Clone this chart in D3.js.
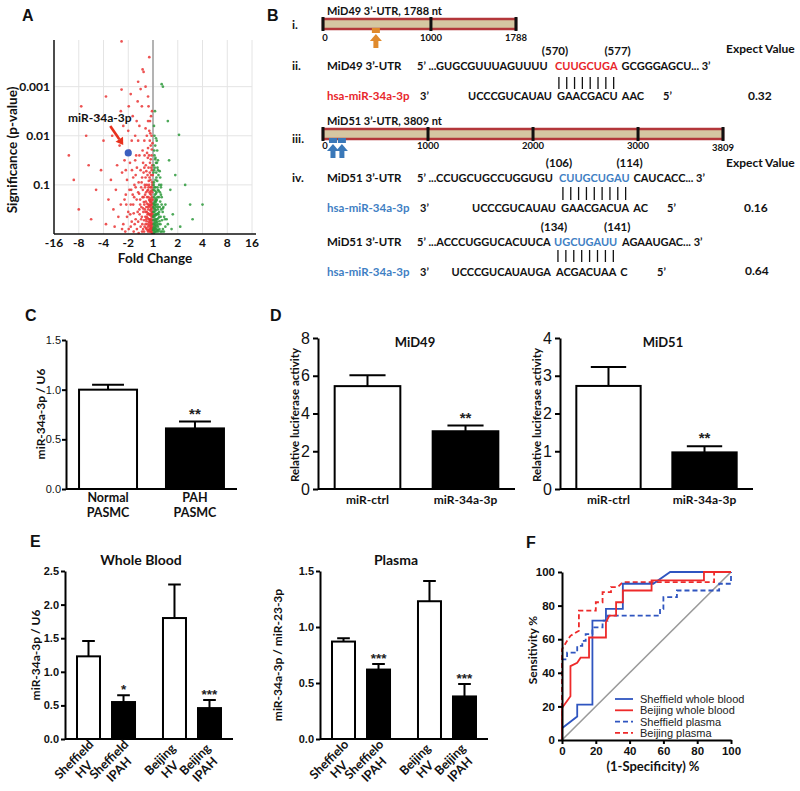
<!DOCTYPE html>
<html><head><meta charset="utf-8">
<script src="https://cdn.jsdelivr.net/npm/d3@7"></script>
<style>body{margin:0;background:#fff}</style>
</head><body><svg id="c" width="800" height="791"></svg>
<script>
// ================= DATA =================
// Panel A – volcano plot: [log2 fold change, -log10 p]
const volcanoXTickVals = [-4,-3,-2,-1,0,1,2,3,4];
const volcanoXTickLabels = ["-16","-8","-4","-2","1","2","4","8","16"];
const volcanoYTickVals = [3,2,1];
const volcanoYTickLabels = ["0.001","0.01","0.1"];
const volcanoDown = [
[-0.05,0.1],[-0.12,0.3],[-0.2,0.05],[-0.08,0.5],[-0.3,0.2],[-0.15,0.7],[-0.02,0.9],[-0.25,0.45],[-0.4,0.1],[-0.1,1.1],
[-0.18,0.95],[-0.35,0.6],[-0.05,1.3],[-0.22,1.2],[-0.45,0.35],[-0.28,0.85],[-0.12,1.45],[-0.5,0.15],[-0.03,0.2],[-0.07,0.65],
[-0.33,1.0],[-0.17,0.25],[-0.42,0.75],[-0.09,0.4],[-0.26,0.1],[-0.55,0.5],[-0.14,0.85],[-0.38,1.25],[-0.06,1.6],[-0.21,1.55],
[-0.48,0.95],[-0.02,0.55],[-0.11,0.15],[-0.31,0.35],[-0.19,0.6],[-0.6,0.25],[-0.04,1.05],[-0.24,0.75],[-0.36,0.05],[-0.13,1.25],
[-0.44,1.15],[-0.08,0.8],[-0.29,1.4],[-0.16,0.4],[-0.52,0.7],[-0.01,0.35],[-0.27,0.55],[-0.09,1.8],[-0.2,1.75],[-0.34,1.6],
[-0.06,2.0],[-0.15,2.1],[-0.4,1.45],[-0.58,1.05],[-0.23,0.2],[-0.11,0.65],[-0.47,0.55],[-0.03,1.4],[-0.18,1.35],[-0.32,0.8],
[-0.07,0.05],[-0.39,0.45],[-0.14,0.1],[-0.25,1.0],[-0.54,0.4],[-0.1,0.95],[-0.43,0.2],[-0.05,0.75],[-0.2,0.9],[-0.3,1.15],
[-0.65,0.1],[-0.12,2.3],[-0.25,2.0],[-0.04,2.5],[-0.18,2.6],[-0.35,1.9],[-0.08,1.2],[-0.16,1.0],[-0.5,1.3],[-0.28,0.3],
[-0.02,0.7],[-0.13,0.55],[-0.37,0.65],[-0.22,0.4],[-0.6,0.85],[-0.09,0.25],[-0.41,0.9],[-0.06,0.45],[-0.2,0.15],[-0.33,0.5],
[-0.04,0.02],[-0.09,0.12],[-0.02,0.28],[-0.14,0.22],[-0.06,0.35],[-0.11,0.48],[-0.03,0.62],[-0.17,0.08],[-0.08,0.18],[-0.21,0.32],
[-0.05,0.15],[-0.13,0.4],[-0.01,0.08],[-0.07,0.58],[-0.19,0.5],[-0.1,0.72],[-0.24,0.62],[-0.15,0.58],[-0.03,0.42],[-0.28,0.12],
[-0.02,0.12],[-0.06,0.22],[-0.1,0.05],[-0.04,0.38],[-0.16,0.3],[-0.08,0.68],[-0.12,0.82],[-0.03,1.0],[-0.14,1.15],[-0.07,1.35],
[-0.22,0.08],[-0.26,0.26],[-0.19,0.42],[-0.29,0.66],[-0.23,0.88],[-0.17,1.08],[-0.09,1.52],[-0.27,1.28],[-0.32,0.95],[-0.36,0.28],
[-0.4,0.52],[-0.44,0.05],[-0.48,0.3],[-0.52,0.6],[-0.56,0.82],[-0.46,1.05],[-0.62,0.45],[-0.66,0.7],[-0.7,0.95],[-0.74,0.2],
[-0.78,0.42],[-0.82,0.8],[-0.86,0.25],[-0.9,0.6],[-0.95,0.9],[-0.98,0.1],[-0.58,0.02],[-0.35,1.35],[-0.42,1.7],[-0.24,1.65],
[-0.13,1.9],[-0.05,1.72],[-0.11,2.05],[-0.2,2.3],[-0.3,2.15],[-0.08,2.4],[-0.16,1.6],[-0.01,1.2],[-0.02,1.85],[-0.04,0.85],
[-0.05,0.52],[-0.07,0.3],[-0.12,0.6],[-0.15,0.18],[-0.18,0.75],[-0.21,0.55],[-0.25,0.35],[-0.3,0.45],[-0.34,0.15],[-0.38,0.75],
[-0.03,0.08],[-0.06,0.95],[-0.1,0.28],[-0.13,0.05],[-0.02,0.45],[-0.08,0.1],[-0.11,0.38],[-0.14,0.68],[-0.06,0.6],[-0.09,0.88],
[-1.05,0.35],[-1.15,0.7],[-1.25,0.1],[-1.1,1.3],[-0.93,1.45],[-0.8,1.15],[-0.65,1.35],[-0.55,1.6],[-0.6,1.9],[-0.72,1.5],
[-0.7,0.3],[-0.8,0.6],[-0.9,0.15],[-0.75,1.0],[-1.0,0.45],[-0.85,1.3],[-1.1,0.8],[-0.68,1.6],[-1.2,0.2],[-0.95,1.7],
[-1.3,0.6],[-0.72,2.0],[-1.05,1.1],[-1.4,0.35],[-0.88,0.9],[-1.15,1.5],[-0.78,0.05],[-1.5,0.9],[-0.66,2.3],[-1.0,2.1],
[-1.25,1.25],[-0.82,2.4],[-1.6,0.5],[-0.92,0.4],[-1.35,1.8],[-0.7,1.2],[-1.12,0.05],[-0.98,2.6],[-1.45,1.4],[-0.76,0.75],
[-1.55,0.15],[-1.2,2.2],[-0.86,1.9],[-1.08,0.6],[-1.3,2.5],[-0.62,2.7],[-0.9,2.85],[-1.7,1.1],[-1.8,0.7],[-1.65,2.0],
[-1.27,3.92],[-0.42,3.35],[-0.38,3.3],[-1.27,2.94],[-0.6,3.1],[-0.3,3.0],[-2.0,1.9],[-2.3,0.9],[-2.6,1.4],[-3.0,0.5],
[-2.2,2.4],[-1.9,2.8],[-0.5,2.95],[-0.2,2.8],[-2.7,2.0],[-3.2,1.1],[-0.15,3.6],[-2.5,0.3],[-1.9,0.2],[-2.1,1.3],
[-0.45,2.6],[-0.55,2.2],[-3.4,1.6],[-2.9,2.6]
];
const volcanoUp = [
[0.05,0.1],[0.12,0.3],[0.2,0.05],[0.08,0.5],[0.3,0.2],[0.15,0.7],[0.03,0.9],[0.25,0.45],[0.4,0.1],[0.1,1.1],
[0.18,0.95],[0.35,0.6],[0.05,1.3],[0.22,1.2],[0.45,0.35],[0.28,0.85],[0.12,1.45],[0.5,0.15],[0.03,0.2],[0.07,0.65],
[0.33,1.0],[0.17,0.25],[0.09,0.4],[0.26,0.1],[0.14,0.85],[0.06,1.6],[0.02,0.55],[0.11,0.15],[0.31,0.35],[0.19,0.6],
[0.04,1.05],[0.24,0.75],[0.36,0.05],[0.13,1.25],[0.08,0.8],[0.16,0.4],[0.01,0.35],[0.27,0.55],[0.09,1.8],[0.2,1.5],
[0.06,2.0],[0.15,1.9],[0.23,0.2],[0.11,0.65],[0.42,0.55],[0.03,1.4],[0.18,1.35],[0.32,0.8],[0.07,0.05],[0.39,0.45],
[0.14,0.1],[0.25,1.0],[0.1,0.95],[0.05,0.75],[0.2,0.9],[0.29,1.15],[0.55,0.3],[0.13,0.55],[0.22,0.4],[0.09,0.25],
[0.06,0.45],[0.2,0.15],[0.33,0.5],[0.04,2.2],[0.1,1.55],[0.17,1.7],
[0.04,0.02],[0.09,0.12],[0.02,0.28],[0.14,0.22],[0.06,0.35],[0.11,0.48],[0.03,0.62],[0.17,0.08],[0.08,0.18],[0.21,0.32],
[0.05,0.15],[0.13,0.4],[0.01,0.08],[0.07,0.58],[0.19,0.5],[0.1,0.72],
[0.02,0.12],[0.06,0.22],[0.1,0.05],[0.04,0.38],[0.16,0.3],[0.08,0.68],[0.12,0.82],[0.03,1.0],[0.14,1.15],[0.07,1.35],
[0.22,0.08],[0.26,0.26],[0.19,0.42],[0.29,0.66],[0.23,0.88],[0.17,1.08],[0.09,1.52],[0.27,1.28],[0.32,0.95],[0.36,0.28],
[0.4,0.52],[0.44,0.05],[0.48,0.3],[0.05,0.52],[0.07,0.3],[0.12,0.6],[0.15,0.18],[0.18,0.75],[0.21,0.55],[0.25,0.35],
[0.03,0.08],[0.06,0.95],[0.1,0.28],[0.13,0.05],[0.02,0.45],[0.08,0.1],[0.11,0.38],[0.14,0.68],[0.06,0.6],[0.09,0.88],
[0.02,1.25],[0.05,1.7],[0.12,1.95],[0.08,2.5],[0.2,1.3],[0.3,0.05],[0.35,0.75],[0.5,0.6],[0.6,0.2],[0.16,1.45],
[0.35,3.05],[0.4,3.0],[1.05,2.02],[1.5,0.6],[1.6,0.3],[0.7,0.9],[0.8,0.4],[0.65,1.5],[1.1,0.15],[0.9,1.2],
[2.0,0.6],[0.6,2.3],[1.3,1.0],[0.75,0.1]
];
const volcanoHighlight = {label:"miR-34a-3p", log2fc:-1.0, negLogP:1.65};

// Panel B – 3'UTR maps and alignments
const mid49Length = 1788, mid51Length = 3809;
const mid49Ticks = [0,1000,1788];
const mid51Ticks = [0,1000,2000,3000,3809];
const mid49SiteMarks = [490];
const mid51SiteMarks = [95,180];
const alignRows = [
 {utr:"MiD49 3’-UTR", pre:"5’ ...GUGCGUUUAGUUUU", site:"CUUGCUGA", post:"GCGGGAGCU... 3’", posA:"(570)", posB:"(577)",
  mirPre:"UCCCGUCAUAU", mirSite:"GAACGACU", mirPost:"AAC", expect:"0.32", color:"#e8262b"},
 {utr:"MiD51 3’-UTR", pre:"5’ ...CCUGCUGCCUGGUGU", site:"CUUGCUGAU", post:"CAUCACC... 3’", posA:"(106)", posB:"(114)",
  mirPre:"UCCCGUCAUAU", mirSite:"GAACGACUA", mirPost:"AC", expect:"0.16", color:"#3f7fc4"},
 {utr:"MiD51 3’-UTR", pre:"5’ ...ACCCUGGUCACUUCA", site:"UGCUGAUU", post:"AGAAUGAC... 3’", posA:"(134)", posB:"(141)",
  mirPre:"UCCCGUCAUAUGA", mirSite:"ACGACUAA", mirPost:"C", expect:"0.64", color:"#3f7fc4"}
];

// Panel C
const cCats = ["Normal PASMC","PAH PASMC"];
const cVals = [1.00, 0.61];
const cSem  = [0.05, 0.07];
const cSig  = ["", "**"];
const cTicks = [0,0.5,1.0,1.5];

// Panel D
const dCats = ["miR-ctrl","miR-34a-3p"];
const d49Vals = [5.45, 3.06];
const d49Sem  = [0.58, 0.30];
const d51Vals = [2.73, 0.97];
const d51Sem  = [0.50, 0.16];
const dSig = ["", "**"];
const d49Ticks = [0,2,4,6,8];
const d51Ticks = [0,1,2,3,4];

// Panel E
const eGroups = ["Sheffield","Beijing"];
const eSubs = ["HV","IPAH"];
const wbVals = [1.23, 0.55, 1.80, 0.46];
const wbSem  = [0.23, 0.10, 0.50, 0.12];
const wbSig  = ["", "*", "", "***"];
const plVals = [0.87, 0.62, 1.23, 0.38];
const plSem  = [0.03, 0.05, 0.18, 0.11];
const plSig  = ["", "***", "", "***"];
const wbLabels = [["Sheffield","HV"],["Sheffield","IPAH"],["Beijing","HV"],["Beijing","IPAH"]];
const plLabels = [["Sheffielo","HV"],["Sheffielo","IPAH"],["Beijing","HV"],["Beijing","IPAH"]];
const wbTicks = [0,0.5,1.0,1.5,2.0,2.5];
const plTicks = [0,0.5,1.0,1.5];

// Panel F – ROC curves [1-specificity %, sensitivity %]
const rocSheffWB = [[0,0],[0,7],[9,14],[9,21],[18,21],[18,71],[26,71],[26,78],[36,78],[36,93],[54,93],[64,100],[100,100]];
const rocBeijWB  = [[0,0],[0,19],[5,26],[5,44],[9,46],[11,49],[16,49],[16,61],[26,61],[26,70],[28,74],[32,74],[32,82],[36,82],[36,89],[53,89],[53,95],[84,95],[84,100],[100,100]];
const rocSheffPl = [[0,0],[0,48],[3,48],[3,52],[9,52],[9,56],[12,56],[12,59],[14,59],[14,63],[18,63],[18,67],[24,67],[24,71],[27,71],[27,74],[58,74],[58,78],[60,78],[60,85],[68,85],[68,89],[93,89],[93,93],[100,93],[100,100]];
const rocBeijPl  = [[0,0],[0,54],[3,59],[5,62],[10,65],[10,77],[20,77],[20,82],[24,82],[24,88],[29,88],[29,91],[33,91],[36,94],[90,94],[90,100],[100,100]];
const rocNames = ["Sheffield whole blood","Beijing whole blood","Sheffield plasma","Beijing plasma"];
const rocTicks = [0,20,40,60,80,100];

// ================= DRAW =================
const svg = d3.select("#c");
svg.append("rect").attr("width",800).attr("height",791).attr("fill","#fff");
const CAL = "Lato, 'Open Sans', sans-serif";
const ARI = "'Liberation Sans', Arial, sans-serif";

function txt(g,x,y,s,o={}){
  const t = g.append("text").attr("x",x).attr("y",y).text(s)
    .attr("font-family",o.ff||CAL).attr("font-size",o.fs||12)
    .attr("font-weight",o.fw||"bold").attr("fill",o.fill||"#111")
    .attr("text-anchor",o.anchor||"start");
  if(o.rot) t.attr("transform",`rotate(${o.rot},${x},${y})`);
  return t;
}
function styleAxis(g,ff,fs,fw){
  g.select(".domain").attr("stroke","#000").attr("stroke-width",2);
  g.selectAll(".tick line").attr("stroke","#000").attr("stroke-width",2);
  g.selectAll(".tick text").attr("font-family",ff).attr("font-size",fs).attr("font-weight",fw).attr("fill","#111");
}

// panel letters
[["A",22,21],["B",267,21],["C",25,321],["D",270,321],["E",30,547],["F",526,548]].forEach(d=>
  txt(svg,d[1],d[2],d[0],{ff:ARI,fs:16}));

// ---------- Panel A ----------
{
  const g = svg.append("g");
  const x = d3.scaleLinear().domain([-4,4]).range([54,252]);
  const y = d3.scaleLinear().domain([0,3.95]).range([234,40]);
  g.selectAll("line.vg").data(volcanoXTickVals.filter(v=>v!==-4&&v!==0)).join("line")
    .attr("x1",d=>x(d)).attr("x2",d=>x(d)).attr("y1",y(3.95)).attr("y2",y(0))
    .attr("stroke","#e4e4e4").attr("stroke-width",1);
  g.selectAll("line.hg").data(volcanoYTickVals).join("line")
    .attr("x1",x(-4)).attr("x2",x(4)).attr("y1",d=>y(d)).attr("y2",d=>y(d))
    .attr("stroke","#e4e4e4").attr("stroke-width",1);
  g.append("line").attr("x1",x(0)).attr("x2",x(0)).attr("y1",y(3.95)).attr("y2",y(0))
    .attr("stroke","#a0a0a0").attr("stroke-width",1.6);
  g.selectAll("circle.dn").data(volcanoDown).join("circle")
    .attr("cx",d=>x(d[0])).attr("cy",d=>y(d[1])).attr("r",1.35).attr("fill","#ea3535").attr("opacity",0.85);
  g.selectAll("circle.up").data(volcanoUp).join("circle")
    .attr("cx",d=>x(d[0])).attr("cy",d=>y(d[1])).attr("r",1.35).attr("fill","#2e9a3c").attr("opacity",0.85);
  g.append("line").attr("x1",x(-4)).attr("x2",x(-4)).attr("y1",y(3.95)).attr("y2",y(0)).attr("stroke","#111").attr("stroke-width",1.5);
  g.append("line").attr("x1",x(-4)).attr("x2",x(4)+4).attr("y1",y(0)).attr("y2",y(0)).attr("stroke","#111").attr("stroke-width",1.5);
  volcanoXTickVals.forEach((v,i)=>txt(g,x(v),247,volcanoXTickLabels[i],{fs:12,anchor:"middle"}));
  volcanoYTickVals.forEach((v,i)=>txt(g,50,y(v)+4,volcanoYTickLabels[i],{fs:12,anchor:"end"}));
  txt(g,155,263,"Fold Change",{fs:13.5,anchor:"middle"});
  txt(g,17,150,"Significance (p-value)",{fs:13.5,anchor:"middle",rot:-90});
  const hx = x(volcanoHighlight.log2fc), hy = y(volcanoHighlight.negLogP);
  g.append("circle").attr("cx",hx).attr("cy",hy).attr("r",3.6).attr("fill","#3a5fbf");
  txt(g,68,122,volcanoHighlight.label,{fs:12});
  const tip=[hx-5,hy-8], tail=[hx-18,hy-27];
  const dx=tip[0]-tail[0], dy=tip[1]-tail[1], L=Math.hypot(dx,dy), ux=dx/L, uy=dy/L;
  const bx=tip[0]-ux*7, by=tip[1]-uy*7;
  g.append("line").attr("x1",tail[0]).attr("y1",tail[1]).attr("x2",bx).attr("y2",by).attr("stroke","#e8301c").attr("stroke-width",2.6);
  g.append("path").attr("d",`M${tip[0]},${tip[1]}L${bx-uy*4.5},${by+ux*4.5}L${bx+uy*4.5},${by-ux*4.5}Z`).attr("fill","#e8301c");
}

// ---------- Panel B ----------
{
  const g = svg.append("g");
  const TAN="#d5c7a2", BR="#b3373a";
  function utrBar(scale, len, ticks, y0, title, titleY, labY, marks, markColor){
    txt(g,327,titleY,title,{fs:11});
    g.append("rect").attr("x",scale(0)).attr("y",y0).attr("width",scale(len)-scale(0)).attr("height",10)
      .attr("fill",TAN).attr("stroke",BR).attr("stroke-width",2.5);
    g.selectAll(null).data(ticks).join("line").attr("x1",d=>scale(d)).attr("x2",d=>scale(d))
      .attr("y1",y0-2).attr("y2",y0+12).attr("stroke","#111").attr("stroke-width",3);
    ticks.forEach(t=>txt(g,scale(t)+(t===0?2:0),labY+(t===len&&len>3000?2:0),String(t),{fs:9.5,anchor:"middle"}));
    marks.forEach(m=>{
      const mx=scale(m);
      g.append("rect").attr("x",mx-4).attr("y",y0+9).attr("width",8).attr("height",5).attr("fill",markColor);
      g.append("path").attr("d",`M${mx},${y0+15}L${mx+6},${y0+22}L${mx-6},${y0+22}Z`).attr("fill",markColor);
      g.append("rect").attr("x",mx-2.5).attr("y",y0+22).attr("width",5).attr("height",7).attr("fill",markColor);
    });
  }
  const s49 = d3.scaleLinear().domain([0,mid49Length]).range([323,516]);
  const s51 = d3.scaleLinear().domain([0,mid51Length]).range([323,723]);
  txt(g,292,29,"i.",{fs:12});
  utrBar(s49,mid49Length,mid49Ticks,19,"MiD49 3’-UTR, 1788 nt",15,41,mid49SiteMarks,"#e08a2c");
  txt(g,292,143,"iii.",{fs:12});
  utrBar(s51,mid51Length,mid51Ticks,129,"MiD51 3’-UTR, 3809 nt",125,149,mid51SiteMarks,"#3a78b8");

  const rowLayout = [
    {roman:"ii.", posY:55, seqY:70, barY:[77,89], mirY:100, siteX:555, postX:620, end5:663, expX:748, expY:100, headerY:53},
    {roman:"iv.", posY:167, seqY:182, barY:[187,200], mirY:212, siteX:559, postX:632, end5:667, expX:744, expY:212, headerY:167},
    {roman:null, posY:231, seqY:246, barY:[250,262], mirY:276, siteX:554, postX:622, end5:657, expX:745, expY:275, headerY:null}
  ];
  const FS=11;
  alignRows.forEach((r,i)=>{
    const L=rowLayout[i];
    if(L.roman) txt(g,292,L.seqY,L.roman,{fs:12});
    if(L.headerY) txt(g,726,L.headerY,"Expect Value",{fs:12});
    txt(g,327,L.seqY,r.utr,{fs:11.5});
    txt(g,417,L.seqY,r.pre,{fs:FS});
    const st = txt(g,L.siteX,L.seqY,r.site,{fs:FS,fill:r.color});
    const sw = st.node().getComputedTextLength();
    txt(g,Math.max(L.postX,L.siteX+sw+4),L.seqY,r.post,{fs:FS});
    txt(g,L.siteX,L.posY,r.posA,{fs:11.5,anchor:"middle"});
    txt(g,L.siteX+sw,L.posY,r.posB,{fs:11.5,anchor:"middle"});
    const n=r.site.length;
    g.selectAll(null).data(d3.range(n)).join("line")
      .attr("x1",k=>L.siteX+(k+0.5)*sw/n).attr("x2",k=>L.siteX+(k+0.5)*sw/n)
      .attr("y1",L.barY[0]).attr("y2",L.barY[1]).attr("stroke","#111").attr("stroke-width",1.3);
    txt(g,327,L.mirY,"hsa-miR-34a-3p",{fs:11.5,fill:r.color});
    txt(g,420,L.mirY,"3’",{fs:FS});
    txt(g,L.siteX-3,L.mirY,r.mirPre,{fs:FS,anchor:"end"});
    const ms = txt(g,L.siteX+2,L.mirY,r.mirSite,{fs:FS});
    txt(g,L.siteX+2+ms.node().getComputedTextLength()+4,L.mirY,r.mirPost,{fs:FS});
    txt(g,L.end5,L.mirY,"5’",{fs:FS});
    txt(g,L.expX,L.expY,r.expect,{fs:12});
  });
}

// ---------- generic bar helpers ----------
function drawBars(g, data, xPos, bw, y, sigFs, sigLift){
  g.selectAll(null).data(data).join("rect")
    .attr("x",d=>xPos(d)).attr("y",d=>y(d.v)).attr("width",bw).attr("height",d=>y(0)-y(d.v))
    .attr("fill",d=>d.fill).attr("stroke","#000").attr("stroke-width",2);
  const cap = bw*0.55;
  g.selectAll(null).data(data).join("path")
    .attr("d",d=>{const cx=xPos(d)+bw/2; return `M${cx},${y(d.v)}V${y(d.v+d.s)}M${cx-cap/2},${y(d.v+d.s)}H${cx+cap/2}`;})
    .attr("stroke","#000").attr("stroke-width",2).attr("fill","none");
  data.forEach(d=>{ if(d.sig) txt(g,xPos(d)+bw/2,y(d.v+d.s)-sigLift,d.sig,{ff:ARI,fs:sigFs,anchor:"middle",fill:"#222"}); });
}

// ---------- Panel C ----------
{
  const g = svg.append("g");
  const x = d3.scaleBand().domain(cCats).range([66,237]).paddingInner(0.333).paddingOuter(0.15);
  const y = d3.scaleLinear().domain([0,1.5]).range([489,340]);
  const data = cCats.map((c,i)=>({c,v:cVals[i],s:cSem[i],fill:i?"#000":"#fff",sig:cSig[i]}));
  drawBars(g,data,d=>x(d.c),x.bandwidth(),y,15,2);
  const ax = g.append("g").attr("transform","translate(66,0)")
    .call(d3.axisLeft(y).tickValues(cTicks).tickFormat(d3.format(".1f")).tickSize(4).tickPadding(1).tickSizeOuter(0));
  styleAxis(ax,ARI,11,"normal");
  g.append("line").attr("x1",66).attr("x2",237).attr("y1",489).attr("y2",489).attr("stroke","#000").attr("stroke-width",2);
  cCats.forEach(c=>{const p=c.split(" "); txt(g,x(c)+x.bandwidth()/2,502,p[0],{fs:12.5,anchor:"middle"}); txt(g,x(c)+x.bandwidth()/2,517,p[1],{fs:12.5,anchor:"middle"});});
  txt(g,45,414,"miR-34a-3p / U6",{fs:12,anchor:"middle",rot:-90});
}

// ---------- Panel D ----------
function panelD(x0,x1,vals,sems,ymax,ticks,title,titleX,ylabX){
  const g = svg.append("g");
  const x = d3.scaleBand().domain(dCats).range([x0,x1]).paddingInner(0.33).paddingOuter(0.17);
  const y = d3.scaleLinear().domain([0,ymax]).range([489,338]);
  const data = dCats.map((c,i)=>({c,v:vals[i],s:sems[i],fill:i?"#000":"#fff",sig:dSig[i]}));
  drawBars(g,data,d=>x(d.c),x.bandwidth(),y,15,3);
  const ax = g.append("g").attr("transform",`translate(${x0},0)`)
    .call(d3.axisLeft(y).tickValues(ticks).tickFormat(d3.format("d")).tickSize(5).tickPadding(3).tickSizeOuter(0));
  styleAxis(ax,ARI,16,"normal");
  g.append("line").attr("x1",x0).attr("x2",x1).attr("y1",489).attr("y2",489).attr("stroke","#000").attr("stroke-width",2);
  dCats.forEach(c=>txt(g,x(c)+x.bandwidth()/2,504,c,{fs:12,anchor:"middle"}));
  txt(g,titleX,347,title,{fs:13,anchor:"middle"});
  txt(g,ylabX,415,"Relative luciferase activity",{fs:11.5,anchor:"middle",rot:-90});
}
panelD(318,515,d49Vals,d49Sem,8,d49Ticks,"MiD49",415,299);
panelD(560,753,d51Vals,d51Sem,4,d51Ticks,"MiD51",663,541);

// ---------- Panel E ----------
function panelE(x0,vals,sems,sigs,labels,ymax,ticks,title,ylab,ylabX){
  const g = svg.append("g");
  const x1 = x0+168;
  const xg = d3.scaleBand().domain(eGroups).range([x0,x1]).paddingInner(0.186).paddingOuter(0.07);
  const xs = d3.scaleBand().domain(eSubs).range([0,xg.bandwidth()]).paddingInner(0.343).paddingOuter(0.171);
  const y = d3.scaleLinear().domain([0,ymax]).range([739,571]);
  const data = [];
  eGroups.forEach((gr,gi)=>eSubs.forEach((sb,si)=>{const k=gi*2+si; data.push({gr,sb,v:vals[k],s:sems[k],fill:si?"#000":"#fff",sig:sigs[k],lab:labels[k]});}));
  const xPos = d=>xg(d.gr)+xs(d.sb);
  drawBars(g,data,xPos,xs.bandwidth(),y,13.5,1);
  const ax = g.append("g").attr("transform",`translate(${x0},0)`)
    .call(d3.axisLeft(y).tickValues(ticks).tickFormat(d3.format(".1f")).tickSize(4).tickPadding(2).tickSizeOuter(0));
  styleAxis(ax,ARI,11,"bold");
  g.append("line").attr("x1",x0).attr("x2",x1).attr("y1",739).attr("y2",739).attr("stroke","#000").attr("stroke-width",2);
  data.forEach(d=>{
    const cx = xPos(d)+xs.bandwidth()/2;
    const lg = g.append("g").attr("transform",`translate(${cx-10},764) rotate(-45)`);
    txt(lg,0,-2,d.lab[0],{fs:12.5,anchor:"middle"});
    txt(lg,0,12,d.lab[1],{fs:12.5,anchor:"middle"});
  });
  txt(g,(x0+x1)/2-8,565,title,{fs:14,anchor:"middle"});
  txt(g,ylabX,655,ylab,{fs:12,anchor:"middle",rot:-90});
}
panelE(65,wbVals,wbSem,wbSig,wbLabels,2.5,wbTicks,"Whole Blood","miR-34a-3p / U6",40);
panelE(320,plVals,plSem,plSig,plLabels,1.5,plTicks,"Plasma","miR-34a-3p / miR-23-3p",282);

// ---------- Panel F ----------
{
  const g = svg.append("g");
  const x = d3.scaleLinear().domain([0,100]).range([562,731]);
  const y = d3.scaleLinear().domain([0,100]).range([740,572]);
  g.append("line").attr("x1",x(0)).attr("y1",y(0)).attr("x2",x(100)).attr("y2",y(100)).attr("stroke","#9a9a9a").attr("stroke-width",1.6);
  const series = [
    {pts:rocSheffPl,color:"#2f55c0",dash:"5,3"},
    {pts:rocBeijPl,color:"#ee2a2a",dash:"5,3"},
    {pts:rocSheffWB,color:"#2f55c0",dash:null},
    {pts:rocBeijWB,color:"#ee2a2a",dash:null}
  ];
  const line = d3.line().x(d=>x(d[0])).y(d=>y(d[1]));
  series.forEach(s=>g.append("path").attr("d",line(s.pts)).attr("fill","none").attr("stroke",s.color)
    .attr("stroke-width",1.8).attr("stroke-dasharray",s.dash));
  const ay = g.append("g").attr("transform","translate(562,0)")
    .call(d3.axisLeft(y).tickValues(rocTicks).tickSize(4).tickSizeOuter(0));
  styleAxis(ay,ARI,11.5,"bold");
  const axx = g.append("g").attr("transform","translate(0,740)")
    .call(d3.axisBottom(x).tickValues(rocTicks).tickSize(4).tickSizeOuter(0));
  styleAxis(axx,ARI,11.5,"bold");
  txt(g,653,771,"(1-Specificity) %",{fs:13,anchor:"middle"});
  txt(g,537,650,"Sensitivity %",{fs:12,anchor:"middle",rot:-90});
  const legColors = ["#2f55c0","#ee2a2a","#2f55c0","#ee2a2a"];
  const legDash = [null,null,"5,3","5,3"];
  rocNames.forEach((n,i)=>{
    const ly = 699 + i*11.3;
    g.append("line").attr("x1",615).attr("x2",633).attr("y1",ly).attr("y2",ly).attr("stroke",legColors[i]).attr("stroke-width",1.8).attr("stroke-dasharray",legDash[i]);
    txt(g,640,ly+4,n,{ff:ARI,fs:11,fw:"normal",fill:"#222"});
  });
}
</script></body></html>
